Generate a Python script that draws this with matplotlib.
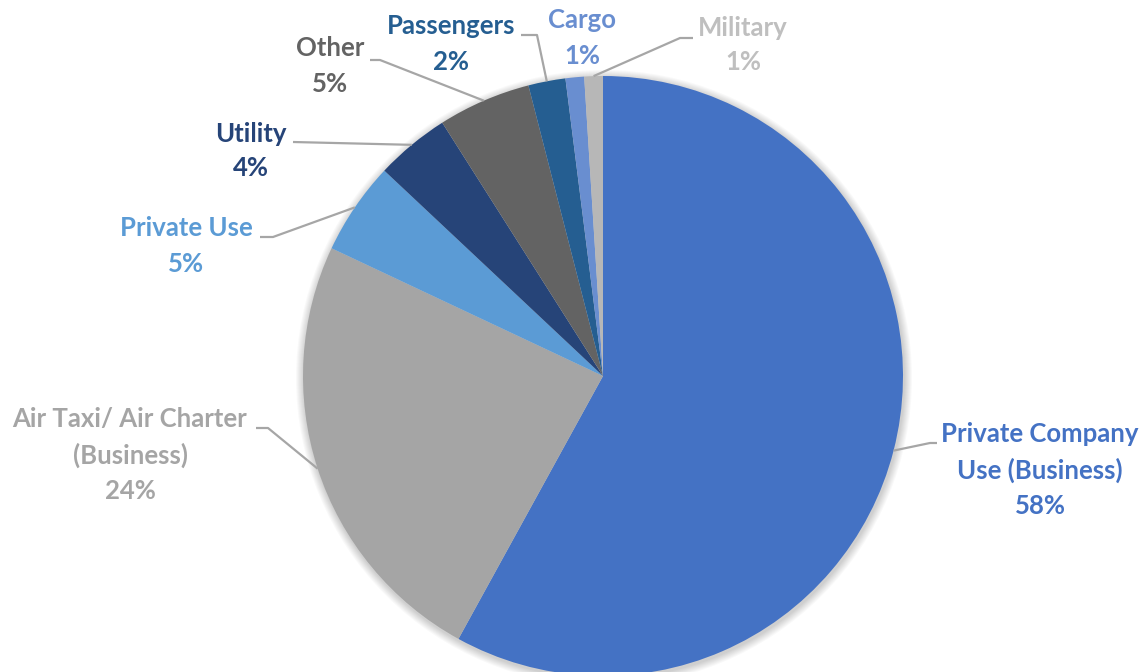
import numpy as np
import matplotlib
matplotlib.use("Agg")
import matplotlib.pyplot as plt
from matplotlib.patches import Circle

plt.rcParams["font.family"] = ["Lato", "DejaVu Sans"]

# Aircraft use breakdown (share of fleet, %)
categories = ["Private Company\nUse (Business)", "Air Taxi/ Air Charter\n(Business)",
              "Private Use", "Utility", "Other", "Passengers", "Cargo", "Military"]
shares = [58, 24, 5, 4, 5, 2, 1, 1]
slice_colors = ["#4472C4", "#A5A5A5", "#5B9BD5", "#264478",
                "#636363", "#255E91", "#698ED0", "#B7B7B7"]
label_colors = ["#4472C4", "#A5A5A5", "#5B9BD5", "#264478",
                "#636363", "#255E91", "#698ED0", "#BFBFBF"]

W, H = 1147, 672
CX, CY, R = 603, H - 376, 300

# label block centres and leader elbow points, in pixel coords (y from top)
label_pos = [(1040, 470), (130, 455), (186, 246), (251, 151),
             (330, 66), (451, 44), (582, 38), (743, 45)]
elbows = [((930, 443), (937, 443)), ((268, 428), (256, 428)),
          ((273, 237), (260, 237)), ((293, 142), (293, 142)),
          ((380, 60), (370, 60)), ((537, 35), (521, 35)),
          None, ((680, 38), (693, 38))]

fig = plt.figure(figsize=(W / 100, H / 100), dpi=100)
ax = fig.add_axes([0, 0, 1, 1])

# soft drop shadow around the pie
for k in range(8, 0, -1):
    ax.add_patch(Circle((CX + 1, CY - 2), R + k, color="#000000",
                        alpha=0.025, lw=0, zorder=0))

wedges, _ = ax.pie(shares, colors=slice_colors, startangle=90, counterclock=False,
                   center=(CX, CY), radius=R, frame=True,
                   wedgeprops=dict(linewidth=0, zorder=1))

for i, w in enumerate(wedges):
    mid = np.deg2rad((w.theta1 + w.theta2) / 2)
    ex, ey = CX + R * np.cos(mid), CY + R * np.sin(mid)
    if elbows[i] is not None:
        (x1, y1), (x2, y2) = elbows[i]
        ax.plot([ex, x1, x2], [ey, H - y1, H - y2], color="#A6A6A6",
                lw=1.6, zorder=2, solid_capstyle="butt")
    lx, ly = label_pos[i]
    ax.text(lx, H - ly, f"{categories[i]}\n{shares[i]}%", ha="center", va="center",
            color=label_colors[i], fontsize=18.5, fontweight="bold",
            linespacing=1.55, zorder=3)

ax.set_xlim(0, W)
ax.set_ylim(0, H)
ax.set_aspect("equal")
ax.axis("off")

fig.savefig("out.png", dpi=100)
